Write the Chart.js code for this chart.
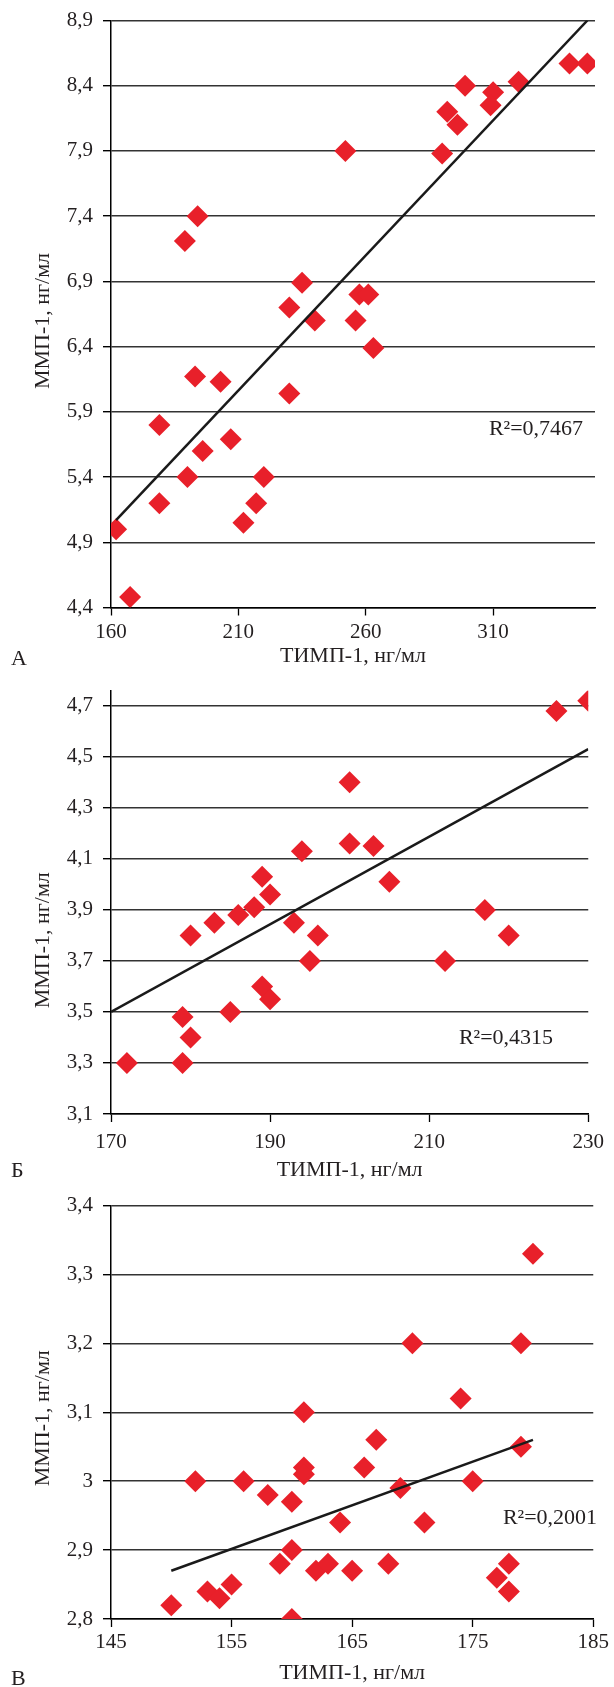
<!DOCTYPE html>
<html lang="ru">
<head>
<meta charset="utf-8">
<title>ММП-1 и ТИМП-1</title>
<script src="https://cdn.jsdelivr.net/npm/chart.js@4.4.1/dist/chart.umd.min.js"></script>
<style>
    html, body { margin: 0; padding: 0; background: #fff; }
    body {
        position: relative;
        width: 614px;
        height: 1687px;
        overflow: hidden;
        font-family: 'Liberation Serif', 'Times New Roman', serif;
        color: #231f20;
    }
    .panel { position: absolute; left: 0; width: 614px; }
    .note {
        position: absolute;
        font-size: 22px;
        line-height: 1;
        white-space: nowrap;
        transform: translate(-50%, -50%);
    }
    .letter {
        position: absolute;
        left: 11px;
        font-size: 22px;
        line-height: 1;
        transform: translateY(-50%);
    }
</style>
</head>
<body>

<div class="panel" style="top:0;height:670px"><canvas id="chart-a" width="614" height="670"></canvas></div>
<div class="panel" style="top:670px;height:515px"><canvas id="chart-b" width="614" height="515"></canvas></div>
<div class="panel" style="top:1185px;height:502px"><canvas id="chart-c" width="614" height="502"></canvas></div>

<div class="note" style="left:536px;top:428px">R²=0,7467</div>
<div class="note" style="left:506px;top:1037px">R²=0,4315</div>
<div class="note" style="left:550px;top:1517px">R²=0,2001</div>

<div class="letter" style="top:658px">А</div>
<div class="letter" style="top:1170px">Б</div>
<div class="letter" style="top:1678px">В</div>

<script>
// --- data ---

const xTitle = 'ТИМП-1, нг/мл';
const yTitle = 'ММП-1, нг/мл';

// panel A
const timpA = [340, 347, 299, 310, 309, 320, 292, 296, 290, 252,
    194, 189, 235, 230, 257.5, 261, 240, 256, 263, 193,
    203, 230, 179, 207, 196, 190, 220, 179, 217, 212,
    162, 167.5];
const mmpA = [8.57, 8.57, 8.4, 8.35, 8.25, 8.43, 8.2, 8.1, 7.88, 7.9,
    7.4, 7.21, 6.89, 6.7, 6.8, 6.8, 6.6, 6.6, 6.39, 6.17,
    6.13, 6.04, 5.8, 5.69, 5.6, 5.4, 5.4, 5.2, 5.2, 5.05,
    5.0, 4.48];
const trendXA = [162, 347];
const trendYA = [5.07, 8.9];
const xRangeA = [160, 350];
const yRangeA = [4.4, 8.9];
const xTicksA = [160, 210, 260, 310];
const yTicksA = [4.4, 4.9, 5.4, 5.9, 6.4, 6.9, 7.4, 7.9, 8.4, 8.9];

// panel Б
const timpB = [226, 230, 200, 200, 203, 194, 205, 189, 190, 188,
    186, 183, 180, 193, 196, 195, 217, 220, 212, 189,
    190, 185, 179, 180, 179, 172];
const mmpB = [4.68, 4.72, 4.4, 4.16, 4.15, 4.13, 4.01, 4.03, 3.96, 3.91,
    3.88, 3.85, 3.8, 3.85, 3.8, 3.7, 3.9, 3.8, 3.7, 3.6,
    3.55, 3.5, 3.48, 3.4, 3.3, 3.3];
const trendXB = [170, 230];
const trendYB = [3.5, 4.53];
const xRangeB = [170, 230];
const yRangeB = [3.1, 4.76];
const xTicksB = [170, 190, 210, 230];
const yTicksB = [3.1, 3.3, 3.5, 3.7, 3.9, 4.1, 4.3, 4.5, 4.7];

// panel В
const timpC = [180, 170, 179, 174, 161, 167, 179, 161, 161, 166,
    152, 156, 175, 158, 160, 169, 164, 171, 160, 159,
    162, 163, 165, 168, 178, 177, 178, 155, 153, 154,
    150, 160];
const mmpC = [3.33, 3.2, 3.2, 3.12, 3.1, 3.06, 3.05, 3.02, 3.01, 3.02,
    3.0, 3.0, 3.0, 2.98, 2.97, 2.99, 2.94, 2.94, 2.9, 2.88,
    2.87, 2.88, 2.87, 2.88, 2.88, 2.86, 2.84, 2.85, 2.84, 2.83,
    2.82, 2.8];
const trendXC = [150, 180];
const trendYC = [2.87, 3.06];
const xRangeC = [145, 185];
const yRangeC = [2.8, 3.4];
const xTicksC = [145, 155, 165, 175, 185];
const yTicksC = [2.8, 2.9, 3.0, 3.1, 3.2, 3.3, 3.4];

// --- styling ---

const MARKER_COLOR = '#e8202a';
const TEXT_COLOR = '#231f20';
const FONT_FAMILY = "'Liberation Serif', 'Times New Roman', serif";

const tickFont = { family: FONT_FAMILY, size: 21, lineHeight: 1 };
const titleFont = { family: FONT_FAMILY, size: 22, lineHeight: 1 };

/**
 * Draws the rotated y-axis title; the built-in one can only be centred on the
 * chart area, while the original sits a bit lower on panel Б.
 */
const yTitlePlugin = {
    id: 'yTitle',
    afterDraw(chart, args, opts) {
        const { ctx, chartArea } = chart;
        ctx.save();
        ctx.translate(opts.x, (chartArea.top + chartArea.bottom) / 2 + opts.shift);
        ctx.rotate(-Math.PI / 2);
        ctx.font = `${titleFont.size}px ${FONT_FAMILY}`;
        ctx.fillStyle = TEXT_COLOR;
        ctx.textAlign = 'center';
        ctx.textBaseline = 'middle';
        ctx.fillText(yTitle, 0, 0);
        ctx.restore();
    }
};

/**
 * @param {Number} value
 * @returns {String}
 */
function formatTick(value) {
    return String(value).replace('.', ',');
}

/**
 * @param {Number[]} xs
 * @param {Number[]} ys
 * @returns {Object[]}
 */
function toPoints(xs, ys) {
    return xs.map((x, i) => ({ x, y: ys[i] }));
}

/**
 * @param {String} elementId
 * @param {Object} series   {xs, ys, trendX, trendY}
 * @param {Object} axes     {xRange, yRange, xTicks, yTicks}
 * @param {Object} box      {top, xHeight, xPad, titlePad, yTitleShift}
 * @returns {Chart}
 */
function initScatterChart(elementId, series, axes, box) {
    return new Chart(document.getElementById(elementId), {
        type: 'scatter',
        plugins: [yTitlePlugin],
        data: {
            datasets: [
                {
                    // trend line first so it is drawn on top of the markers
                    data: toPoints(series.trendX, series.trendY),
                    showLine: true,
                    borderColor: '#1a1a1a',
                    borderWidth: 2.5,
                    pointRadius: 0,
                    pointHoverRadius: 0,
                    fill: false
                },
                {
                    data: toPoints(series.xs, series.ys),
                    pointStyle: 'rectRot',
                    pointRadius: 11,
                    pointHoverRadius: 11,
                    backgroundColor: MARKER_COLOR,
                    borderWidth: 0
                }
            ]
        },
        options: {
            responsive: false,
            animation: false, // disable all animations
            devicePixelRatio: 1,
            events: [],
            layout: {
                padding: { top: box.top, right: 19, bottom: 0, left: 0 }
            },
            plugins: {
                legend: { display: false },
                tooltip: { enabled: false },
                yTitle: { x: 43, shift: box.yTitleShift }
            },
            scales: {
                x: {
                    type: 'linear',
                    min: axes.xRange[0],
                    max: axes.xRange[1],
                    afterBuildTicks: scale => {
                        scale.ticks = axes.xTicks.map(value => ({ value }));
                    },
                    afterFit: scale => {
                        scale.height = box.xHeight;
                    },
                    grid: {
                        drawOnChartArea: false,
                        drawTicks: true,
                        tickLength: 8,
                        tickColor: '#000',
                        tickWidth: 1.3
                    },
                    border: { color: '#000', width: 1.5 },
                    ticks: {
                        padding: box.xPad,
                        color: TEXT_COLOR,
                        font: tickFont,
                        maxRotation: 0,
                        autoSkip: false,
                        callback: formatTick
                    },
                    title: {
                        display: true,
                        text: xTitle,
                        color: TEXT_COLOR,
                        font: titleFont,
                        padding: { top: 0, bottom: box.titlePad }
                    }
                },
                y: {
                    type: 'linear',
                    min: axes.yRange[0],
                    max: axes.yRange[1],
                    afterBuildTicks: scale => {
                        scale.ticks = axes.yTicks.map(value => ({ value }));
                    },
                    afterFit: scale => {
                        scale.width = 111;
                    },
                    grid: {
                        color: '#333',
                        lineWidth: 1.4,
                        drawTicks: true,
                        tickLength: 8,
                        tickColor: '#000'
                    },
                    border: { color: '#000', width: 1.5 },
                    ticks: {
                        padding: 10,
                        color: TEXT_COLOR,
                        font: tickFont,
                        autoSkip: false,
                        callback: formatTick
                    }
                }
            }
        }
    });
}

initScatterChart('chart-a',
    { xs: timpA, ys: mmpA, trendX: trendXA, trendY: trendYA },
    { xRange: xRangeA, yRange: yRangeA, xTicks: xTicksA, yTicks: yTicksA },
    { top: 19, xHeight: 62.5, xPad: 6, titlePad: 3, yTitleShift: 7 });

initScatterChart('chart-b',
    { xs: timpB, ys: mmpB, trendX: trendXB, trendY: trendYB },
    { xRange: xRangeB, yRange: yRangeB, xTicks: xTicksB, yTicks: yTicksB },
    { top: 12, xHeight: 71, xPad: 10, titlePad: 4, yTitleShift: 38 });

initScatterChart('chart-c',
    { xs: timpC, ys: mmpC, trendX: trendXC, trendY: trendYC },
    { xRange: xRangeC, yRange: yRangeC, xTicks: xTicksC, yTicks: yTicksC },
    { top: 14, xHeight: 68, xPad: 5, titlePad: 3, yTitleShift: 6 });
</script>
</body>
</html>
